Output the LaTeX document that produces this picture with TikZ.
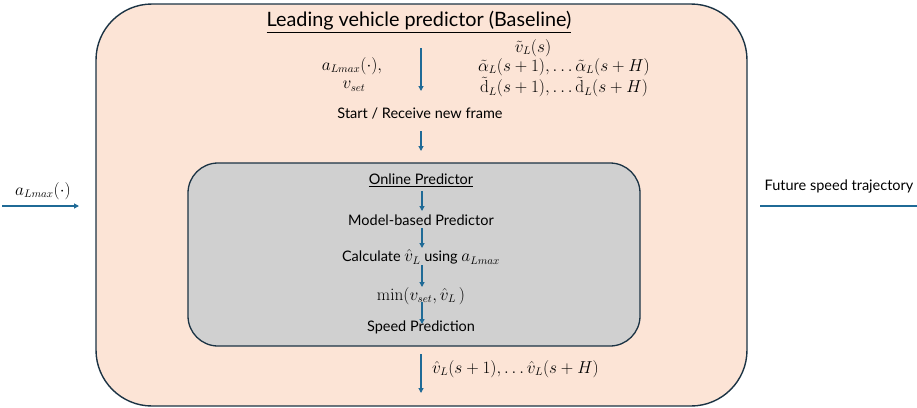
\documentclass[tikz,border=0pt]{standalone}
\usepackage[no-math]{fontspec}
\setmainfont{Lato}
\usetikzlibrary{arrows.meta}
\definecolor{peach}{HTML}{FCE4D6}
\definecolor{panelgrey}{HTML}{D0D0D0}
\definecolor{edge}{HTML}{1B3344}
\definecolor{flow}{HTML}{1F6A96}
\tikzset{
  flowarrow/.style={draw=flow, line width=1.1pt, -{Triangle[length=5pt,width=5pt]}},
  flowline/.style={draw=flow, line width=1.1pt},
  txt/.style={inner sep=0pt, font=\fontsize{14.5}{17}\selectfont},
  mth/.style={inner sep=0pt, font=\fontsize{16}{19}\selectfont},
}
\newcommand{\bigmath}[1]{{\fontsize{16}{19}\selectfont$#1$}}
\begin{document}
\begin{tikzpicture}[x=1pt,y=-1pt]
\useasboundingbox (0,0) rectangle (917,407);

% outer and inner panels
\node[draw=edge, fill=peach, line width=1.4pt, rounded corners=56pt,
      minimum width=651pt, minimum height=402pt, inner sep=0pt] (outer) at (421.5,205) {};
\node[draw=edge, fill=panelgrey, line width=1.3pt, rounded corners=30pt,
      minimum width=452pt, minimum height=183pt, inner sep=0pt] (inner) at (414,254.5) {};

% titles
\node[txt, font=\fontsize{19.8}{23}\selectfont] (title) at (419,22) {\underline{Leading vehicle predictor (Baseline)}};
\node[txt] (online) at (421,180) {\underline{Online Predictor}};

% inputs to the frame step
\node[mth] (ain) at (352,66) {$a_{Lmax}(\cdot),$};
\node[mth] (vset) at (354,86) {$v_{set}$};
\node[mth] (vt) at (533,48) {$\tilde{v}_L(s)$};
\node[mth] (alp) at (564,67) {$\tilde{\alpha}_L(s+1),\ldots\tilde{\alpha}_L(s+H)$};
\node[mth] (dd) at (564,87) {$\tilde{\mathrm{d}}_L(s+1),\ldots\tilde{\mathrm{d}}_L(s+H)$};

% processing steps
\node[txt] (start) at (420,113) {Start / Receive new frame};
\node[txt] (model) at (421,220) {Model-based Predictor};
\node[txt] (calc) at (421,257) {Calculate \bigmath{\hat{v}_L}\ using \bigmath{a_{Lmax}}};
\node[mth] (minv) at (421,296) {$\min(v_{set},\hat{v}_L\,)$};
\node[txt] (speed) at (421,327) {Speed Prediction};
\node[mth, anchor=west] (vhat) at (432,369) {$\hat{v}_L(s+1),\ldots\hat{v}_L(s+H)$};

% outside labels
\node[mth] (aleft) at (43,191) {$a_{Lmax}(\cdot)$};
\node[txt] (future) at (839,186) {Future speed trajectory};

% arrow end points
\coordinate (t1) at (421,48);  \coordinate (h1) at (421,91);
\coordinate (t2) at (421,131); \coordinate (h2) at (421,151);
\coordinate (t3) at (422,191); \coordinate (h3) at (422,211);
\coordinate (t4) at (422,228); \coordinate (h4) at (422,248);
\coordinate (t5) at (422,265); \coordinate (h5) at (422,287);
\coordinate (t6) at (422,302); \coordinate (h6) at (422,324);
\coordinate (t7) at (421,354); \coordinate (h7) at (421,393);
\coordinate (li) at (2,206);   \coordinate (lo) at (79,206);
\coordinate (ri) at (760,206); \coordinate (ro) at (917,206);

\draw[flowarrow] (t1) -- (h1);
\draw[flowarrow] (t2) -- (h2);
\draw[flowarrow] (t3) -- (h3);
\draw[flowarrow] (t4) -- (h4);
\draw[flowarrow] (t5) -- (h5);
\draw[flowarrow] (t6) -- (h6);
\draw[flowarrow] (t7) -- (h7);
\draw[flowarrow] (li) -- (lo);
\draw[flowline] (ri) -- (ro);
\end{tikzpicture}
\end{document}
